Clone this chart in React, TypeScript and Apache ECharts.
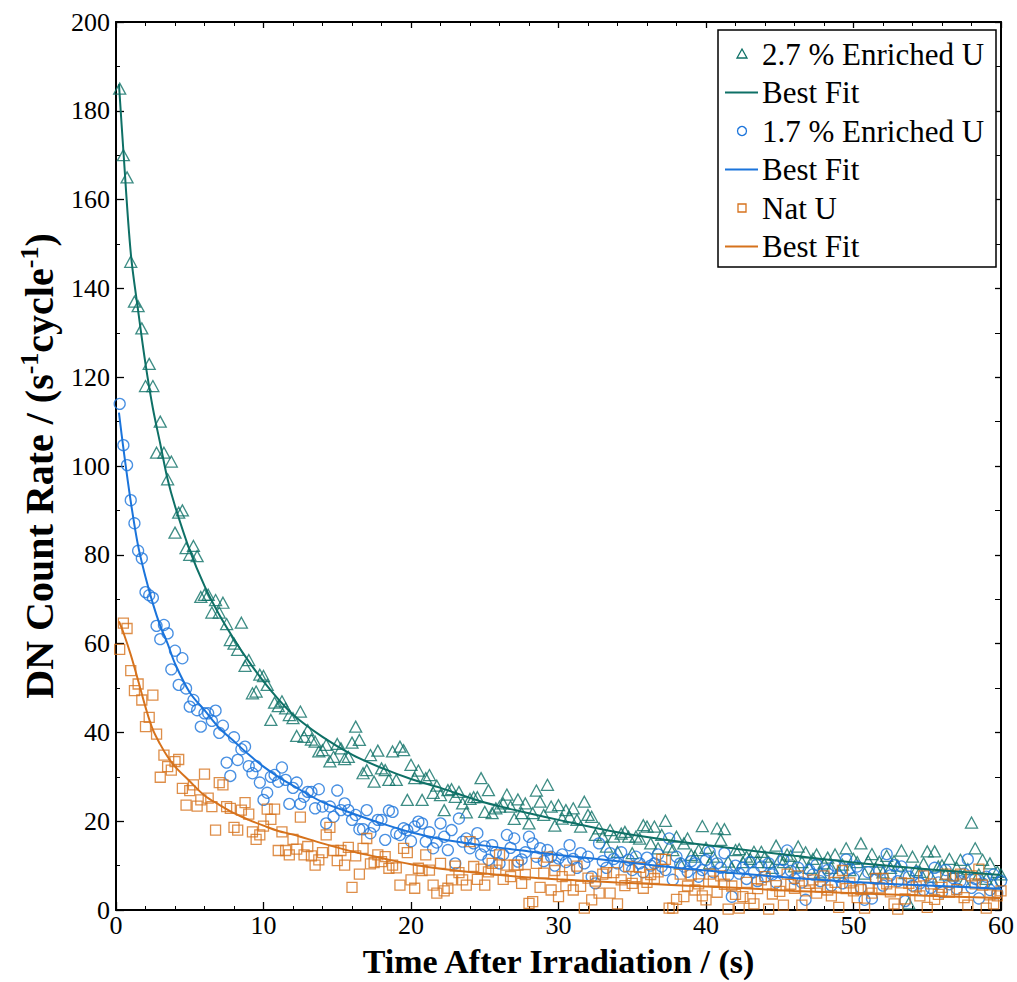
import { useEffect, useRef } from "react";
import * as echarts from "echarts";

// Sampling interval of the measured count rates (s); point i is at (i + 1) * SAMPLE_STEP_S
const SAMPLE_STEP_S = 0.25;

// 2.7 % enriched U, DN count rate (s^-1 cycle^-1)
const enriched27: number[] = [
  185, 170, 165, 146, 137, 136, 131, 118, 123, 118, 103, 110,
  103, 97, 101, 85, 89.5, 90, 81.5, 80, 82, 79.7, 70.5, 71,
  71, 67, 69.8, 67, 69.2, 64.4, 60.8, 60, 58.6, 64.7, 55, 56.3,
  48.8, 49.2, 53, 52.7, 50.7, 42.8, 46.7, 45.9, 47, 45.4, 43.9, 43.2,
  39.2, 44.7, 39, 40.5, 38.4, 37.9, 35.7, 36, 37.2, 33.5, 34.5, 37.4,
  36.4, 34, 34.5, 37.7, 41.3, 38.3, 30.8, 31.5, 34.9, 28.9, 35.9, 31.9,
  31.5, 29.3, 35.7, 29.3, 36.8, 36, 24.8, 32.7, 29.7, 31.4, 24.8, 29.7,
  30.4, 26.4, 28, 25.9, 22.5, 27, 27.2, 25.5, 26.6, 24, 22, 25,
  25.4, 25.4, 29.7, 22.1, 27, 21.8, 22.9, 23.3, 24, 26, 23.3, 20.5,
  24.9, 21.8, 24, 19.5, 21.8, 26.9, 24.4, 21.4, 28.2, 23.3, 19, 23.6,
  20.6, 22.5, 21, 22.9, 20.3, 18.8, 24.4, 21.4, 21, 16.9, 18.4, 16.5,
  14.3, 18, 16.5, 13.1, 17.2, 17.6, 16.5, 12.8, 16.5, 16.1, 19.1, 18.8,
  15, 18.8, 13.9, 16.9, 20.1, 14.3, 13.5, 16.5, 10.5, 15, 16.1, 12.4,
  12, 13.5, 18.9, 14, 10.5, 12, 18.4, 15.8, 18.2, 10.9, 9.5, 13.5,
  13.7, 10.8, 12, 11.5, 13.1, 10.8, 13.1, 12, 10.8, 9.5, 14.5, 11.5,
  10.8, 12.5, 12.2, 9.8, 14.3, 10.8, 13, 9.5, 11.5, 12.5, 8.5, 10.5,
  11.8, 9.5, 12.5, 8.5, 10.2, 13.9, 9, 11.5, 10.8, 15, 8.2, 11,
  12.6, 9.3, 10.9, 8.5, 12.2, 9.5, 11, 10, 13.4, 8.3, 1.5, 12,
  9, 8.6, 10.5, 13.2, 7.5, 13.2, 9.8, 10.1, 8, 11.5, 7.8, 9.5,
  11.3, 6.5, 9.2, 19.7, 13.9, 8, 11.3, 7, 10.5, 6, 8.6, 8,
];

// 1.7 % enriched U
const enriched17: number[] = [
  114, 104.7, 100.2, 92.3, 87.1, 80.9, 79.2, 71.6, 70.9, 70.3, 64, 61,
  64.2, 62.3, 54.2, 58.4, 50.7, 56.7, 49.9, 45.8, 47.3, 45, 41.3, 44.3,
  44.3, 42.6, 44.9, 39.9, 41.5, 33.2, 30.2, 38.9, 33.8, 36.2, 36.8, 32.4,
  30.8, 32.4, 28.7, 24.8, 26.4, 30, 30.4, 28.9, 32.1, 29.3, 23.9, 27.5,
  28.7, 23.9, 25.5, 26.6, 26.6, 22.9, 27.2, 23.3, 19.5, 23.3, 21, 26.9,
  22.5, 24, 22.5, 20.3, 21.4, 18.2, 18.2, 22.5, 17.3, 18.8, 20.3, 20.3,
  15.8, 22.4, 22.1, 17.3, 16.9, 18.4, 18, 15.5, 18.8, 19.9, 19.5, 15.4,
  17.5, 13.9, 15.2, 19.5, 16.5, 13.5, 18, 10.5, 20.6, 15.4, 16.1, 13.9,
  15, 17.3, 12.5, 14.3, 11.3, 14.6, 13, 10.5, 12.5, 16.9, 14, 16.1,
  10.9, 11.4, 13, 16.5, 15, 12, 13.9, 11, 13.5, 12, 10, 11.6,
  12.5, 10.8, 14.6, 11.5, 9.5, 12.8, 10.5, 12, 7.5, 6, 15, 11,
  9.5, 12.8, 11.5, 10.5, 13, 9.8, 11.3, 9, 12, 10.5, 8.5, 11.8,
  10, 10.5, 12.5, 9.8, 9, 16.1, 6.8, 12, 10.5, 9.8, 8.6, 11,
  10.5, 7.5, 9, 11.3, 13.1, 8.5, 10.5, 9.5, 12.8, 7.8, 3, 10,
  8.2, 9.5, 7, 10.8, 8.5, 6.5, 9.8, 7.5, 10.5, 8, 6.2, 9,
  11.3, 13.4, 8.8, 7, 9.5, 6.2, 2.3, 9, 8, 10.2, 6.5, 7.8,
  9, 5.5, 10, 7.5, 6, 11.4, 9.3, 7.2, 9.8, 5, 2.3, 8.5,
  2.6, 7, 8.8, 5.5, 12.6, 7.8, 10.1, 6.5, 9.8, 2, 7.5, 5.5,
  8.5, 6, 4.5, 7.8, 5, 9.5, 6.2, 4, 9, 5.8, 7.2, 4.8,
  6.5, 8.2, 11.4, 5, 7, 2.6, 6, 7.5, 4.5, 8, 3.8, 6.5,
];

// Natural U
const naturalU: number[] = [
  58.7, 64.6, 63.4, 53.9, 49.4, 50.9, 47.3, 41.3, 43.4, 48.4, 39.6, 29.9,
  34.9, 32.3, 31.5, 33.4, 33.9, 27.4, 23.6, 26.9, 28.2, 23.4, 24.8, 30.6,
  25.2, 23.3, 18, 28.7, 28.2, 23.3, 22.9, 18.6, 18, 22.5, 24.2, 21.6,
  17.6, 15.9, 16.9, 18.9, 22.7, 20.4, 22.7, 13.4, 17.6, 13.4, 12.4, 15.9,
  13.7, 20.9, 12.4, 14.3, 12.2, 10.1, 11.3, 12.9, 16.9, 18.6, 13.4, 11.1,
  13.4, 10.1, 14.1, 5.1, 12.2, 8.1, 13.9, 16.1, 10.4, 10.7, 12.4, 10.9,
  12, 9.4, 10.1, 9.5, 5.6, 13.9, 12.9, 6.8, 4.9, 9.4, 8.9, 12.4,
  9, 5.6, 3.8, 10.5, 4.3, 4.9, 6.8, 9.9, 8.4, 6.8, 5.6, 15.4,
  9.8, 6.9, 9.2, 5.6, 8.6, 10.5, 9, 12.4, 6.9, 10.1, 7.5, 10.1,
  10.1, 6, 8, 1.5, 1.9, 10.5, 5.1, 8.3, 11.9, 4.5, 8.9, 3,
  7.5, 5.5, 9, 4.5, 9.9, 5.3, 0.4, 7.2, 2.3, 6.5, 3.8, 8.1,
  8.4, 3.8, 8.4, 1.4, 6.8, 5.5, 9.8, 6, 7.5, 9.6, 4.9, 6.2,
  8, 7.1, 8.6, 11.4, 11.4, 0.4, 0.4, 2.4, 8.1, 3, 5.4, 7.9,
  4.5, 5.9, 3.2, 2.3, 8.1, 6.5, 4, 7.7, 5.8, 0.2, 5.4, 3.5,
  0.4, 3, 6.2, 2.6, 1.4, 4.8, 6.8, 7.5, 0.2, 3.6, 5.5, 4.2,
  1.1, 8.1, 5.8, 4.9, 7.7, 1.1, 4.3, 6, 6.8, 3.8, 5.2, 7.7,
  4.5, 3.2, 6.2, 0.6, 8.9, 4.8, 6.1, 4.3, 2.8, 4.6, 0.4, 5.1,
  3.8, 7.1, 5, 7.1, 5.9, 4.1, 1.4, 0.2, 6.1, 2.5, 6, 4.6,
  5.2, 3.2, 7.7, 0.6, 5.9, 2.4, 3.5, 5.1, 8.1, 4, 7.7, 4.6,
  8.1, 2.8, 1.1, 7.7, 5.9, 9.2, 5.6, 0.4, 3.4, 1.4, 3.2, 4.3,
];

// Best-fit curves, read at these times (s)
const fitTimes: number[] = [
  0.2, 0.5, 1, 1.5, 2, 2.5, 3, 3.5, 4, 5, 6, 7, 8, 9, 10, 11, 12, 14, 16, 18,
  20, 22, 25, 28, 30, 34, 38, 42, 46, 50, 55, 60,
];
const fit27: number[] = [
  186, 171, 148, 135, 123, 113, 105, 97, 91, 81, 73, 66.5, 61, 56, 51.5, 47.5,
  44, 39, 35, 32, 29.5, 27.5, 24.2, 21.8, 20.3, 17.5, 15.5, 13.8, 12.2, 10.7, 9.2, 7.9,
];
const fit17: number[] = [
  112, 104, 92, 82, 75, 69, 64, 60, 55.5, 49, 45, 41, 38, 35, 32.3, 30, 28,
  24.3, 21.8, 19.5, 17.5, 16, 14.5, 13.2, 12.4, 11, 9.5, 8.3, 7.2, 6.3, 5.5, 4.8,
];
const fitNat: number[] = [
  65, 62.5, 57.5, 51.7, 45.7, 40.6, 37.3, 34.5, 32.3, 29, 25.8, 23.7, 21.8, 20.3,
  19, 17.8, 17, 15, 13.2, 11.7, 10.3, 9.3, 8.2, 7.3, 6.9, 6.2, 5.6, 5, 4.3, 3.8, 3.2, 2.7,
];

const legendEntries: string[] = [
  "2.7 % Enriched U",
  "Best Fit",
  "1.7 % Enriched U",
  "Best Fit",
  "Nat U",
  "Best Fit",
];

const GREEN = "#0e7066";
const BLUE = "#1b74db";
const ORANGE = "#d6721c";
const FONT = "'Liberation Serif', 'Times New Roman', serif";

function samplePairs(values: number[]): number[][] {
  return values.map((v, i) => [(i + 1) * SAMPLE_STEP_S, v]);
}
function fitPairs(values: number[]): number[][] {
  return fitTimes.map((t, i) => [t, values[i]]);
}

function buildLegend(): any[] {
  const boxX = 718;
  const boxY = 30;
  const rowY = [54, 92.5, 131, 169.5, 208, 246.5];
  const iconX = 742;
  const colors = [GREEN, GREEN, BLUE, BLUE, ORANGE, ORANGE];
  const els: any[] = [
    {
      type: "rect",
      shape: { x: boxX, y: boxY, width: 278, height: 237 },
      style: { fill: "#fff", stroke: "#000", lineWidth: 1.5 },
      z: 100,
    },
  ];
  legendEntries.forEach((label, i) => {
    const y = rowY[i];
    const c = colors[i];
    if (i % 2 === 1) {
      els.push({
        type: "line",
        shape: { x1: 725, y1: y, x2: 758, y2: y },
        style: { stroke: c, lineWidth: 2 },
        z: 101,
      });
    } else if (i === 0) {
      els.push({
        type: "polygon",
        shape: { points: [[iconX - 5, y + 4], [iconX + 5, y + 4], [iconX, y - 5]] },
        style: { fill: "none", stroke: c, lineWidth: 1.3 },
        z: 101,
      });
    } else if (i === 2) {
      els.push({
        type: "circle",
        shape: { cx: iconX, cy: y, r: 4.5 },
        style: { fill: "none", stroke: c, lineWidth: 1.3 },
        z: 101,
      });
    } else {
      els.push({
        type: "rect",
        shape: { x: iconX - 4, y: y - 4, width: 8, height: 8 },
        style: { fill: "none", stroke: c, lineWidth: 1.3 },
        z: 101,
      });
    }
    els.push({
      type: "text",
      x: 762,
      y,
      style: {
        text: label,
        fill: "#000",
        font: `31px ${FONT}`,
        textVerticalAlign: "middle",
        verticalAlign: "middle",
        align: "left",
      },
      z: 101,
    });
  });
  return els;
}

export default function App() {
  const ref = useRef<HTMLDivElement>(null);

  useEffect(() => {
    document.body.style.margin = "0";
    if (!ref.current) return;
    const chart = echarts.init(ref.current, null, { renderer: "svg" });

    const scatter = (name: string, values: number[], symbol: string, size: number | number[], color: string) => ({
      name,
      type: "scatter",
      data: samplePairs(values),
      symbol,
      symbolSize: size,
      itemStyle: { color: "transparent", borderColor: color, borderWidth: 1.3 },
      emphasis: { disabled: true },
      silent: true,
    });
    const fit = (name: string, values: number[], color: string) => ({
      name,
      type: "line",
      data: fitPairs(values),
      smooth: 0.35,
      showSymbol: false,
      symbol: "none",
      lineStyle: { color, width: 2 },
      itemStyle: { color },
      emphasis: { disabled: true },
      silent: true,
    });

    const axisLine = { show: true, onZero: false, lineStyle: { color: "#000", width: 2 } };
    const tick = { show: true, inside: true, length: 8, lineStyle: { color: "#000", width: 1.3 } };
    const minor = (n: number) => ({ show: true, splitNumber: n, length: 4, lineStyle: { color: "#000", width: 1 } });
    const label = { fontSize: 26, fontFamily: FONT, color: "#000" };

    chart.setOption({
      animation: false,
      backgroundColor: "#fff",
      grid: {
        left: 116,
        top: 22,
        width: 885,
        height: 888,
        containLabel: false,
        outerBoundsMode: "none",
      },
      graphic: buildLegend(),
      xAxis: [
        {
          type: "value",
          min: 0,
          max: 60,
          interval: 10,
          position: "bottom",
          name: "Time After Irradiation / (s)",
          nameLocation: "middle",
          nameGap: 36.5,
          nameMoveOverlap: false,
          nameTextStyle: {
            fontSize: 34,
            lineHeight: 30,
            fontWeight: "bold",
            fontFamily: FONT,
            color: "#000",
            verticalAlign: "top",
          },
          axisLine,
          axisTick: tick,
          minorTick: minor(5),
          splitLine: { show: false },
          axisLabel: { ...label, lineHeight: 24, margin: 3 },
        },
        {
          type: "value",
          min: 0,
          max: 60,
          interval: 10,
          position: "top",
          axisLine,
          axisTick: { ...tick, length: 6 },
          minorTick: minor(5),
          splitLine: { show: false },
          axisLabel: { show: false },
        },
      ],
      yAxis: [
        {
          type: "value",
          min: 0,
          max: 200,
          interval: 20,
          position: "left",
          name: "{a|DN Count Rate / (s}{s|-1}{a|cycle}{s|-1}{a|)}",
          nameLocation: "middle",
          nameRotate: 90,
          nameGap: 57,
          nameMoveOverlap: false,
          nameTextStyle: {
            fontSize: 40,
            fontWeight: "bold",
            fontFamily: FONT,
            color: "#000",
            rich: {
              a: { fontSize: 40, fontWeight: "bold", fontFamily: FONT, color: "#000", verticalAlign: "bottom" },
              s: {
                fontSize: 26,
                fontWeight: "bold",
                fontFamily: FONT,
                color: "#000",
                verticalAlign: "bottom",
                padding: [0, 0, 17, 0],
              },
            },
          },
          axisLine,
          axisTick: tick,
          minorTick: minor(2),
          splitLine: { show: false },
          axisLabel: { ...label, margin: 6 },
        },
        {
          type: "value",
          min: 0,
          max: 200,
          interval: 20,
          position: "right",
          axisLine,
          axisTick: { ...tick, length: 6 },
          minorTick: { ...minor(2), length: 6 },
          splitLine: { show: false },
          axisLabel: { show: false },
        },
      ],
      series: [
        scatter("2.7 % Enriched U", enriched27, "triangle", [12, 11], GREEN),
        fit("Best Fit (2.7 %)", fit27, GREEN),
        scatter("1.7 % Enriched U", enriched17, "circle", 11, BLUE),
        fit("Best Fit (1.7 %)", fit17, BLUE),
        scatter("Nat U", naturalU, "rect", 10, ORANGE),
        fit("Best Fit (Nat U)", fitNat, ORANGE),
      ],
    });

    return () => chart.dispose();
  }, []);

  return <div ref={ref} style={{ width: 1017, height: 982 }} />;
}
